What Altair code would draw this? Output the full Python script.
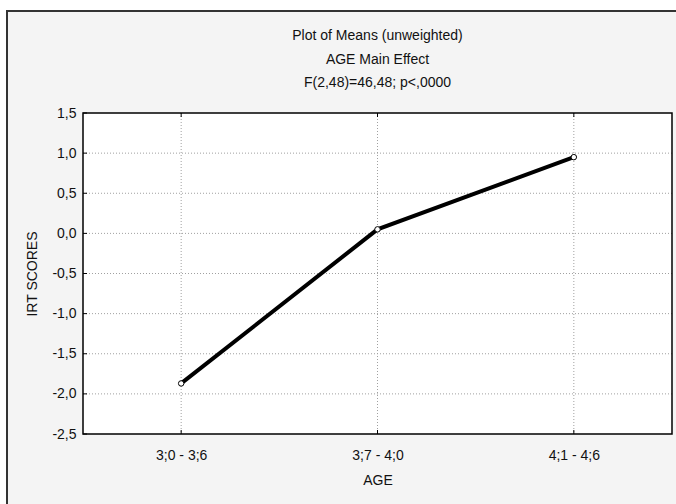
import altair as alt
import pandas as pd

# ---- data ----
ages = ["3;0 - 3;6", "3;7 - 4;0", "4;1 - 4;6"]
means = [-1.87, 0.05, 0.95]
y_ticks = [1.5, 1.0, 0.5, 0.0, -0.5, -1.0, -1.5, -2.0, -2.5]
y_grid = [1.0, 0.5, 0.0, -0.5, -1.0, -1.5, -2.0]
title_lines = ["Plot of Means (unweighted)", "AGE Main Effect", "F(2,48)=46,48; p<,0000"]

W, H = 589, 321
FONT = "Liberation Sans, Arial, sans-serif"
FS = 14

df = pd.DataFrame({"AGE": ages, "IRT": means})
grid_y = pd.DataFrame({"g": y_grid})
grid_x = pd.DataFrame({"AGE": ages})
ticks_y = pd.DataFrame({"g": y_ticks})
one = pd.DataFrame({"k": [0]})

xscale = alt.Scale(type="point", domain=ages, padding=0.5)
yscale = alt.Scale(domain=[-2.5, 1.5], nice=False, zero=False)

label_expr = "(datum.value < 0 ? '-' : '') + replace(format(abs(datum.value), '.1f'), '.', ',')"

x_axis = alt.Axis(
    title="AGE", labelFont=FONT, labelFontSize=FS, labelColor="#111",
    titleFont=FONT, titleFontSize=FS, titleFontWeight="normal", titleColor="#111",
    domain=False, ticks=False, grid=False, labelPadding=14, labelAngle=0,
    titleY=46, titleBaseline="middle", zindex=1,
)
y_axis = alt.Axis(
    title="IRT SCORES", values=y_ticks, labelExpr=label_expr,
    labelFont=FONT, labelFontSize=FS, labelColor="#111",
    titleFont=FONT, titleFontSize=FS, titleFontWeight="normal", titleColor="#111",
    domain=False, ticks=False, grid=False, labelPadding=7,
    titleX=-51, titleY=H / 2, titleAngle=270, titleAlign="center",
    titleBaseline="middle", zindex=1,
)

deco = alt.Chart(one)
base = alt.Chart(df)

outer = deco.mark_rect(fill="#f4f4f4", stroke="#333333", strokeWidth=2).encode(
    x=alt.value(-76), x2=alt.value(W + 60), y=alt.value(-102), y2=alt.value(H + 100)
)
inner = deco.mark_rect(fill="white").encode(
    x=alt.value(0), x2=alt.value(W), y=alt.value(0), y2=alt.value(H)
)
gy = alt.Chart(grid_y).mark_rule(color="#a0a0a0", strokeDash=[1, 2], strokeWidth=1).encode(
    y=alt.Y("g:Q", scale=yscale, axis=y_axis)
)
gx = alt.Chart(grid_x).mark_rule(color="#a0a0a0", strokeDash=[1, 2], strokeWidth=1).encode(
    x=alt.X("AGE:N", scale=xscale, axis=x_axis, sort=ages)
)
tick_left = alt.Chart(ticks_y).mark_rule(color="black", strokeWidth=1).encode(
    y=alt.Y("g:Q", scale=yscale), x=alt.value(0), x2=alt.value(4)
)
tick_bottom = alt.Chart(grid_x).mark_rule(color="black", strokeWidth=1).encode(
    x=alt.X("AGE:N", scale=xscale, sort=ages), y=alt.value(H - 4), y2=alt.value(H)
)
tick_top = alt.Chart(grid_x).mark_rule(color="black", strokeWidth=1).encode(
    x=alt.X("AGE:N", scale=xscale, sort=ages), y=alt.value(0), y2=alt.value(4)
)
line = base.mark_line(color="black", strokeWidth=4).encode(
    x=alt.X("AGE:N", scale=xscale, sort=ages),
    y=alt.Y("IRT:Q", scale=yscale),
)
pts = base.mark_point(shape="circle", filled=True, fill="white", stroke="black",
                      strokeWidth=1, size=30, opacity=1).encode(
    x=alt.X("AGE:N", scale=xscale, sort=ages),
    y=alt.Y("IRT:Q", scale=yscale),
)
border = deco.mark_rect(filled=False, stroke="black", strokeWidth=1.5).encode(
    x=alt.value(0), x2=alt.value(W), y=alt.value(0), y2=alt.value(H)
)

title_y = [-77, -53, -30]
titles = [
    deco.mark_text(font=FONT, fontSize=FS, fontWeight="normal", color="#111",
                   align="center", baseline="middle").encode(
        x=alt.value(W / 2), y=alt.value(ty), text=alt.value(t)
    )
    for t, ty in zip(title_lines, title_y)
]

chart = alt.layer(
    outer, inner, gy, gx, tick_left, tick_bottom, tick_top, line, pts, border, *titles
).properties(
    width=W, height=H,
    autosize=alt.AutoSizeParams(type="none"),
    padding={"left": 83, "top": 113, "right": 4, "bottom": 70},
    background="white",
).configure_view(stroke=None)

chart.save("out.html", embed_options={"renderer": "svg", "actions": False})
